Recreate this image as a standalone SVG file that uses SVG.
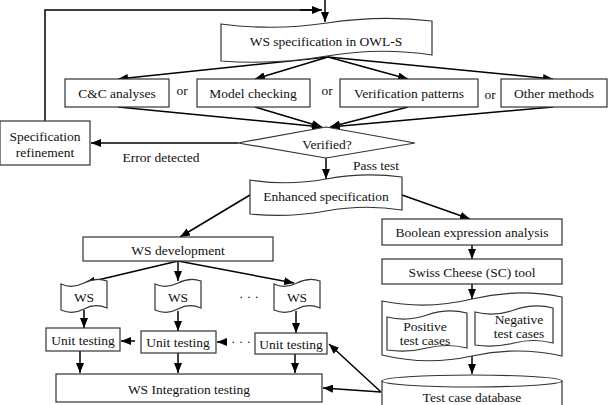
<svg xmlns="http://www.w3.org/2000/svg" width="609" height="405" viewBox="0 0 609 405">
<defs>
<marker id="ah" viewBox="0 0 10 8" refX="10" refY="4" markerWidth="10" markerHeight="8" markerUnits="userSpaceOnUse" orient="auto">
<path d="M0,0 L10,4 L0,8 Z" fill="#000"/>
</marker>
</defs>
<style>
.box{fill:#fff;stroke:#333;stroke-width:1.2}
.t{font-family:'Liberation Serif','DejaVu Serif',serif;font-size:13.5px;fill:#111;text-anchor:middle;dominant-baseline:central}
.c{fill:none;stroke:#000;stroke-width:1.5;marker-end:url(#ah)}
.l{fill:none;stroke:#000;stroke-width:1.5}
</style>
<rect width="609" height="405" fill="#fff"/>

<g id="connectors">
<path class="l" d="M45,121 V10 H316"/>
<path class="c" d="M300,10 H322"/>
<path class="c" d="M325,0 V22"/>
<path class="c" d="M328,57 L118,79"/>
<path class="c" d="M328,57 L255,79"/>
<path class="c" d="M328,57 L408,79"/>
<path class="c" d="M328,57 L553,79"/>
<path class="c" d="M118,107 L322,127"/>
<path class="c" d="M255,107 L322,127"/>
<path class="c" d="M408,107 L330,127"/>
<path class="c" d="M553,107 L330,127"/>
<path class="c" d="M238,143 H91"/>
<path class="c" d="M326,158 V179"/>
<path class="c" d="M250,195 L180,237"/>
<path class="c" d="M402,195 L470,219"/>
<path class="c" d="M472,245 V259"/>
<path class="c" d="M472,284 V299"/>
<path class="c" d="M472,356 V374"/>
<path class="c" d="M178,261 L85,283"/>
<path class="c" d="M178,261 V281"/>
<path class="c" d="M178,261 L294,283"/>
<path class="c" d="M84,310 V328"/>
<path class="c" d="M178,311 V331"/>
<path class="c" d="M296,311 V333"/>
<path class="c" d="M135,341 H121"/>
<path class="c" d="M227,342 H217"/>
<path class="c" d="M80,351 V373"/>
<path class="c" d="M178,353 V373"/>
<path class="c" d="M295,354 V373"/>
<path class="c" d="M381,392 L329,344"/>
<path class="c" d="M381,392 L323,388"/>
</g>

<g id="ws-spec">
<path class="box" d="M221,24 Q274,31 327,23 T432,21 L432,55 Q380,47 327,56 T221,61 Z"/>
<text class="t" x="326" y="41">WS specification in OWL-S</text>
</g>

<g id="cc">
<rect class="box" x="65" y="79" width="104" height="28"/>
<text class="t" x="117" y="93">C&amp;C analyses</text>
</g>
<g id="mc">
<rect class="box" x="197" y="79" width="113" height="28"/>
<text class="t" x="253" y="93">Model checking</text>
</g>
<g id="vp">
<rect class="box" x="340" y="79" width="138" height="28"/>
<text class="t" x="409" y="93">Verification patterns</text>
</g>
<g id="om">
<rect class="box" x="501" y="79" width="106" height="28"/>
<text class="t" x="554" y="93">Other methods</text>
</g>
<g id="or-labels">
<text class="t" x="182" y="90">or</text>
<text class="t" x="327" y="90">or</text>
<text class="t" x="490" y="94">or</text>
</g>

<g id="verified">
<path class="box" d="M326,127 L415,143 L326,158 L238,143 Z"/>
<text class="t" x="327" y="144">Verified?</text>
</g>

<g id="spec-ref">
<rect class="box" x="0" y="121" width="90" height="44"/>
<text class="t" x="45" y="136">Specification</text>
<text class="t" x="45" y="152">refinement</text>
</g>
<text class="t" x="161" y="157">Error detected</text>
<text class="t" x="376" y="165">Pass test</text>

<g id="enhanced">
<path class="box" d="M250,180 Q288,186 326,179 T402,177 L402,210 Q364,204 326,211 T250,214 Z"/>
<text class="t" x="326" y="196">Enhanced specification</text>
</g>

<g id="wsdev">
<rect class="box" x="83" y="237" width="190" height="24"/>
<text class="t" x="178" y="250">WS development</text>
</g>

<g id="bool">
<rect class="box" x="382" y="219" width="180" height="26"/>
<text class="t" x="472" y="232">Boolean expression analysis</text>
</g>
<g id="sc">
<rect class="box" x="382" y="259" width="180" height="25"/>
<text class="t" x="472" y="272">Swiss Cheese (SC) tool</text>
</g>

<g id="testcases">
<path class="box" d="M382,301 Q427,310 472,299 T562,297 L562,356 Q517,346 472,356 T382,355 Z"/>
<path class="box" d="M387,317 Q407,322 427,315 T467,313 L467,348 Q447,343 427,348 T387,350 Z"/>
<text class="t" x="425" y="326">Positive</text>
<text class="t" x="425" y="340">test cases</text>
<path class="box" d="M475,312 Q494,317 514,310 T553,308 L553,343 Q533,338 514,343 T475,345 Z"/>
<text class="t" x="519" y="319">Negative</text>
<text class="t" x="519" y="333">test cases</text>
</g>

<g id="db">
<path class="box" d="M382,381 V410 H562 V381"/>
<ellipse class="box" cx="472" cy="381" rx="90" ry="6"/>
<text class="t" x="472" y="397">Test case database</text>
</g>

<g id="ws1">
<path class="box" d="M61,284 Q72,289 84,283 T107,281 L107,308 Q95,303 84,309 T61,310 Z"/>
<text class="t" x="84" y="297">WS</text>
</g>
<g id="ws2">
<path class="box" d="M155,284 Q166,289 178,283 T201,281 L201,308 Q189,303 178,309 T155,310 Z"/>
<text class="t" x="178" y="297">WS</text>
</g>
<g id="ws3">
<path class="box" d="M274,284 Q285,289 297,283 T320,281 L320,308 Q308,303 297,309 T274,310 Z"/>
<text class="t" x="297" y="297">WS</text>
</g>
<text class="t" x="249" y="296">· · ·</text>

<g id="ut1">
<rect class="box" x="46" y="328" width="74" height="23"/>
<text class="t" x="83" y="340">Unit testing</text>
</g>
<g id="ut2">
<rect class="box" x="141" y="331" width="75" height="22"/>
<text class="t" x="178" y="342">Unit testing</text>
</g>
<g id="ut3">
<rect class="box" x="255" y="333" width="72" height="21"/>
<text class="t" x="291" y="344">Unit testing</text>
</g>
<text class="t" x="241" y="341">· · ·</text>

<g id="integration">
<rect class="box" x="56" y="374" width="266" height="28"/>
<text class="t" x="189" y="389">WS Integration testing</text>
</g>
</svg>
